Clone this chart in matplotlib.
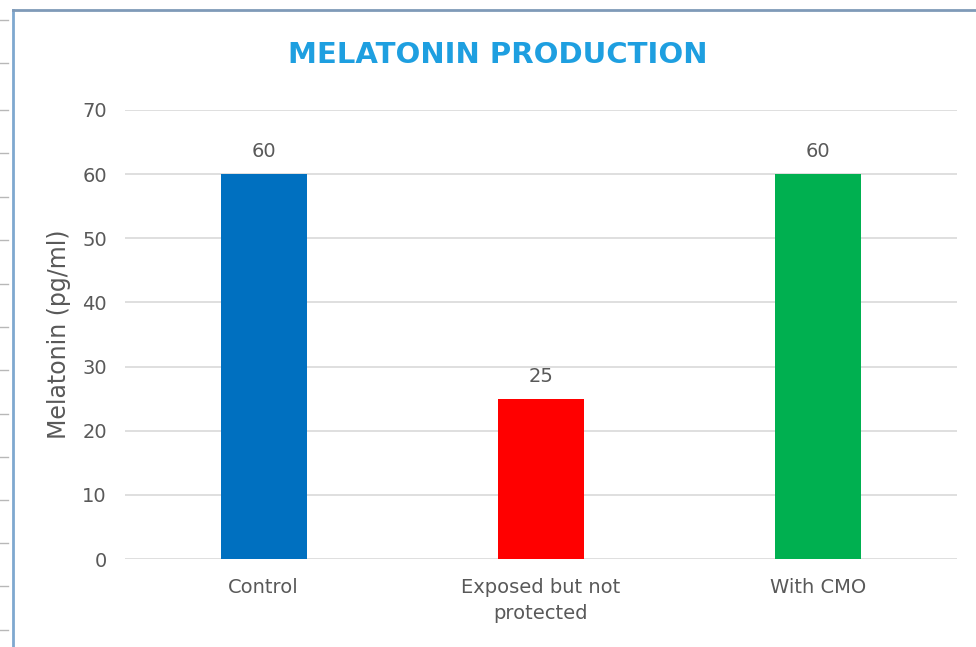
import matplotlib
matplotlib.use("Agg")
import matplotlib.pyplot as plt
from matplotlib.lines import Line2D

categories = ["Control", "Exposed but not\nprotected", "With CMO"]
melatonin = [60, 25, 60]
bar_colors = ["#0070C0", "#FF0000", "#00B050"]
y_ticks = [0, 10, 20, 30, 40, 50, 60, 70]

text_gray = "#595959"
grid_gray = "#D9D9D9"

fig = plt.figure(figsize=(9.76, 6.47), dpi=100)
ax = fig.add_axes([0.128, 0.136, 0.8525, 0.694])

x = list(range(len(categories)))
ax.bar(x, melatonin, width=0.31, color=bar_colors, zorder=3)
for xi, v in zip(x, melatonin):
    ax.text(xi, v + 2.0, str(v), ha="center", va="bottom",
            fontsize=14, color=text_gray)

ax.set_xlim(-0.5, 2.5)
ax.set_ylim(0, 70)
ax.set_yticks(y_ticks)
ax.set_xticks(x)
ax.set_xticklabels(categories, fontsize=14, color=text_gray, linespacing=1.45)
ax.tick_params(axis="y", labelsize=14, labelcolor=text_gray, length=0, pad=13)
ax.tick_params(axis="x", length=0, pad=14)
ax.grid(axis="y", color=grid_gray, linewidth=1.2, zorder=0)
for s in ax.spines.values():
    s.set_visible(False)

ax.set_ylabel("Melatonin (pg/ml)", fontsize=17, color=text_gray, labelpad=8)

fig.text(0.51, 0.915, "MELATONIN PRODUCTION", ha="center", va="center",
         fontsize=21, fontweight="bold", color="#1E9FE0")

# frame lines along the top and left edge
fig.add_artist(Line2D([13 / 976, 13 / 976], [0, 1 - 10 / 647],
                      color="#7FA8CF", linewidth=2))
fig.add_artist(Line2D([13 / 976, 1], [1 - 10 / 647, 1 - 10 / 647],
                      color="#7F9AB8", linewidth=2))
for yp in [20, 63, 110, 153, 197, 240, 284, 327, 370, 414, 457, 500, 543, 586, 630]:
    fig.add_artist(Line2D([0, 8 / 976], [1 - yp / 647, 1 - yp / 647],
                          color="#B8B8B8", linewidth=1))

fig.savefig("out.png", dpi=100)
